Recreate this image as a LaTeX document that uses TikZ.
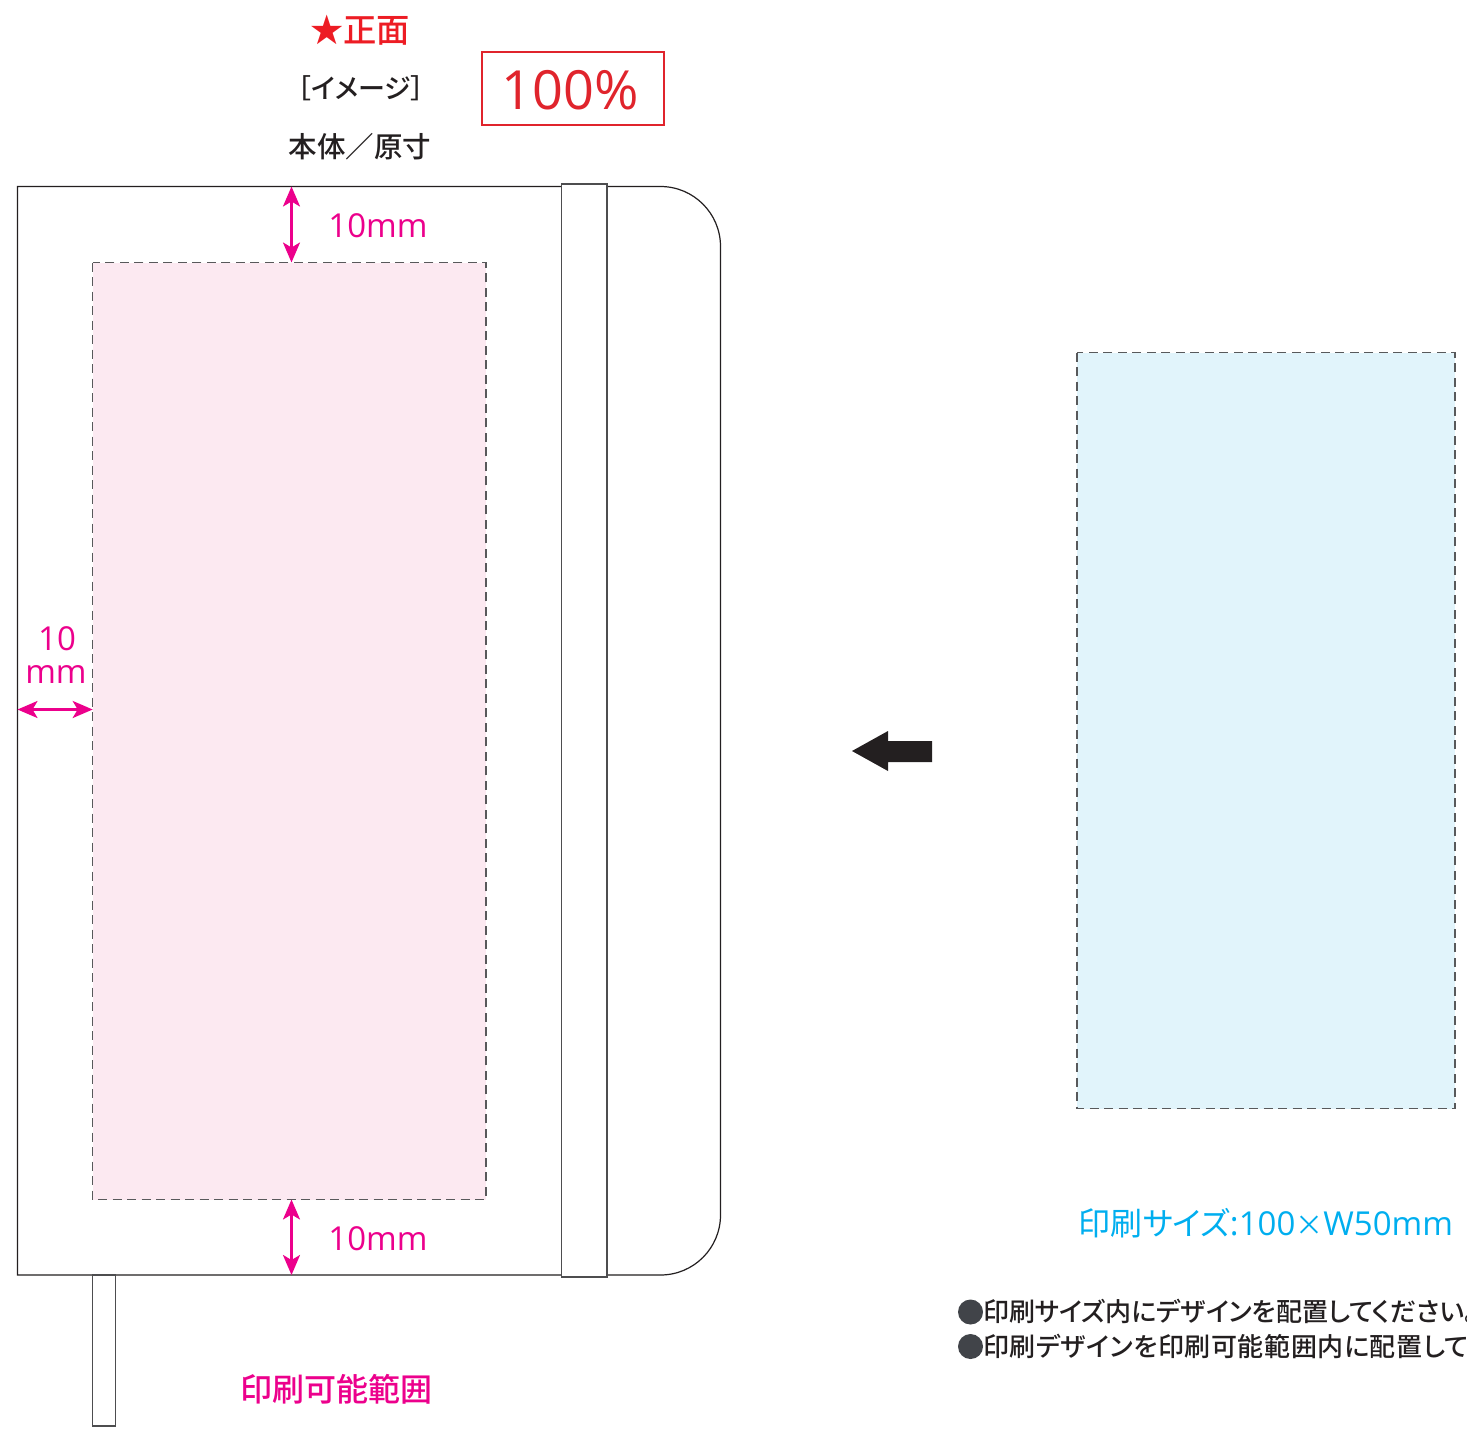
\documentclass[tikz,border=0pt]{standalone}
\usepackage{fontspec}
\setmainfont{Open Sans}
\newfontfamily\cjk[RawFeature=+palt]{Noto Sans CJK JP Medium}
\newfontfamily\cjkwide[RawFeature=+palt,LetterSpace=2.2]{Noto Sans CJK JP Medium}
\newfontfamily\cjklight[RawFeature=+palt]{Noto Sans CJK JP}
\usetikzlibrary{arrows.meta}
\definecolor{ink}{HTML}{231F20}
\definecolor{starred}{HTML}{ED1C24}
\definecolor{boxred}{HTML}{E0242C}
\definecolor{mag}{HTML}{EC008C}
\definecolor{sky}{HTML}{00AEEF}
\definecolor{pinkfill}{HTML}{FCE9F1}
\definecolor{bluefill}{HTML}{E1F4FB}
\definecolor{dashgrey}{HTML}{58595B}
\definecolor{bulletgrey}{HTML}{414449}
\definecolor{strapgrey}{HTML}{4D4D4F}
\tikzset{
  x=1pt,y=-1pt,
  outline/.style={draw=ink,line width=1.2pt,fill=white},
  strap/.style={draw=strapgrey,line width=1.2pt,fill=white},
  area/.style={draw=dashgrey,line width=1.2pt,dash pattern=on 9pt off 5.5pt},
  dim/.style={draw=mag,line width=2.6pt,{Stealth[length=20pt,width=17pt,inset=5pt]}-{Stealth[length=20pt,width=17pt,inset=5pt]}},
  lbl/.style={inner sep=0pt,outer sep=0pt,anchor=base},
  lblw/.style={inner sep=0pt,outer sep=0pt,anchor=base west},
}
\begin{document}
\begin{tikzpicture}
\useasboundingbox (0,0) rectangle (1467,1432);
% book
\draw[outline] (17.5,186.5) -- (660.5,186.5) arc[start angle=-90,end angle=0,radius=60pt,y radius=-60pt] -- (720.5,1215) arc[start angle=0,end angle=90,radius=60pt,y radius=-60pt] -- (17.5,1275) -- cycle;
\coordinate (topedge) at (291.5,186.5);
\coordinate (botedge) at (291.5,1275);
\coordinate (leftedge) at (17.5,709.5);
% band
\draw[strap] (561.7,184) rectangle (607,1277);
% ribbon
\draw[strap] (92.7,1275) rectangle (115.7,1426);
% areas
\fill[pinkfill] (92.7,262.5) rectangle (486,1199.5);
\draw[area] (92.7,262.5) rectangle (486,1199.5);
\coordinate (pinktop) at (291.5,262.5);
\coordinate (pinkbot) at (291.5,1199.5);
\coordinate (pinkleft) at (92.7,709.5);
\fill[bluefill] (1077,352.5) rectangle (1455,1108.5);
\draw[area] (1077,352.5) rectangle (1455,1108.5);
% dimension arrows
\draw[dim] (topedge) -- (pinktop);
\draw[dim] (pinkbot) -- (botedge);
\draw[dim] (leftedge) -- (pinkleft);
% big arrow
\fill[ink] (852,751) -- (888,731) -- (888,741) -- (932,741) -- (932,762) -- (888,762) -- (888,771) -- cycle;
% texts
\node[lbl,text=starred,font=\cjk\fontsize{33.3}{33}\selectfont] (t1) at (360,42.5) {★正面};
\node[lbl,text=ink,font=\cjk\fontsize{27}{28}\selectfont] (t2) at (361,98.5) {［イメージ］};
\node[lbl,text=ink,font=\cjk\fontsize{28.5}{28}\selectfont] (t3) at (360,157.5) {本体／原寸};
\node[draw=boxred,line width=2pt,minimum width=182pt,minimum height=73pt,inner sep=0pt] (pct) at (572.8,88) {};
\node[lbl,text=boxred,font=\fontsize{54}{54}\selectfont] (t4) at (570,109.5) {100\%};
\node[lbl,text=mag,font=\fontsize{33}{33}\selectfont] (d1) at (378,237.5) {10mm};
\node[lbl,text=mag,font=\fontsize{33}{33}\selectfont] (d2) at (378,1250) {10mm};
\node[lbl,text=mag,font=\fontsize{33}{33}\selectfont] (d3) at (57,650) {10};
\node[lbl,text=mag,font=\fontsize{33}{33}\selectfont] (d4) at (56,683) {mm};
\node[lbl,text=mag,font=\cjk\fontsize{32}{32}\selectfont] (t5) at (336.5,1401) {印刷可能範囲};
\node[lbl,text=sky,font=\fontsize{33}{33}\selectfont] (t6) at (1266,1235) {{\cjklight\fontsize{32}{32}\selectfont 印刷サイズ}:100{\cjklight\fontsize{28}{28}\selectfont ×}W50mm};
\fill[bulletgrey] (970.5,1312) circle[radius=12.5pt] (970.5,1346.5) circle[radius=12.5pt];
\node[lblw,text=ink,font=\cjk\fontsize{26}{26}\selectfont] (b1) at (983,1321) {印刷サイズ内にデザインを配置してください。};
\node[lblw,text=ink,font=\cjkwide\fontsize{26}{26}\selectfont] (b2) at (983,1356) {印刷デザインを印刷可能範囲内に配置して};
\end{tikzpicture}
\end{document}
